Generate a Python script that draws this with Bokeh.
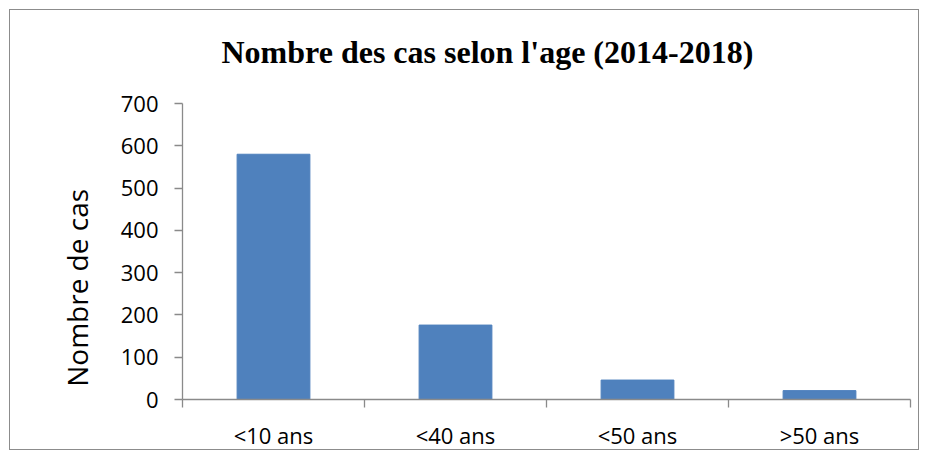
from bokeh.plotting import figure
from bokeh.models import Range1d, FixedTicker, ColumnDataSource
from bokeh.embed import file_html
from bokeh.resources import INLINE

# ---- data ----
categories = ["<10 ans", "<40 ans", "<50 ans", ">50 ans"]
cases = [580, 176, 46, 21]
y_ticks = [0, 100, 200, 300, 400, 500, 600, 700]
title_text = "Nombre des cas selon l'age (2014-2018)"
y_label = "Nombre de cas"

n = len(categories)
centers = [i + 0.5 for i in range(n)]
bounds = list(range(n + 1))
src = ColumnDataSource(dict(x=centers, cases=cases, cat=categories))

AXIS_GREY = "#8a8a8a"

p = figure(width=928, height=459, output_backend="svg", toolbar_location=None,
           x_range=Range1d(0, n), y_range=Range1d(y_ticks[0], y_ticks[-1]),
           title=title_text,
           min_border_left=182, min_border_right=18, min_border_bottom=60,
           min_border_top=103)

p.vbar(x="x", top="cases", bottom=0, width=0.4, source=src,
       fill_color="#4F81BD", line_color="#4F81BD", line_width=1)

p.xgrid.visible = False
p.ygrid.visible = False
p.outline_line_color = None
p.background_fill_color = None
p.border_fill_color = None

# y axis
p.yaxis.ticker = FixedTicker(ticks=y_ticks)
p.yaxis.major_tick_out = 8
p.yaxis.major_tick_in = 0
p.yaxis.minor_tick_out = 0
p.yaxis.minor_tick_in = 0
p.yaxis.axis_line_color = AXIS_GREY
p.yaxis.axis_line_width = 1.3
p.yaxis.major_tick_line_color = AXIS_GREY
p.yaxis.major_tick_line_width = 1.3
p.yaxis.major_label_text_font = "Open Sans"
p.yaxis.major_label_text_font_size = "22px"
p.yaxis.major_label_text_color = "#000000"
p.yaxis.major_label_standoff = 16
p.yaxis.axis_label = y_label + "\u00a0" * 10
p.yaxis.axis_label_text_font = "Open Sans"
p.yaxis.axis_label_text_font_size = "28px"
p.yaxis.axis_label_text_font_style = "normal"
p.yaxis.axis_label_text_color = "#000000"
p.yaxis.axis_label_standoff = 22

# x axis: labels at centres, tick marks at category boundaries
p.xaxis.ticker = FixedTicker(ticks=centers, minor_ticks=bounds)
p.xaxis.major_label_overrides = {c: cat for c, cat in zip(centers, categories)}
p.xaxis.major_tick_out = 0
p.xaxis.major_tick_in = 0
p.xaxis.minor_tick_out = 8
p.xaxis.minor_tick_in = 0
p.xaxis.minor_tick_line_color = AXIS_GREY
p.xaxis.minor_tick_line_width = 1.3
p.xaxis.axis_line_color = AXIS_GREY
p.xaxis.axis_line_width = 1.3
p.xaxis.major_label_text_font = "Open Sans"
p.xaxis.major_label_text_font_size = "22px"
p.xaxis.major_label_text_color = "#000000"
p.xaxis.major_label_standoff = 12

# title
p.title.text_font = "Liberation Serif"
p.title.text_font_size = "32px"
p.title.text_font_style = "bold"
p.title.text_color = "#000000"
p.title.align = "left"
p.title.offset = 39
p.title.vertical_align = "middle"
p.title.standoff = 65

# chart-area border (drawn by the page behind the transparent canvas)
p.styles = {"background-color": "white",
            "outline": "1.5px solid #8c8c8c",
            "outline-offset": "-10px"}

open("out.html", "w").write(file_html(p, INLINE))
